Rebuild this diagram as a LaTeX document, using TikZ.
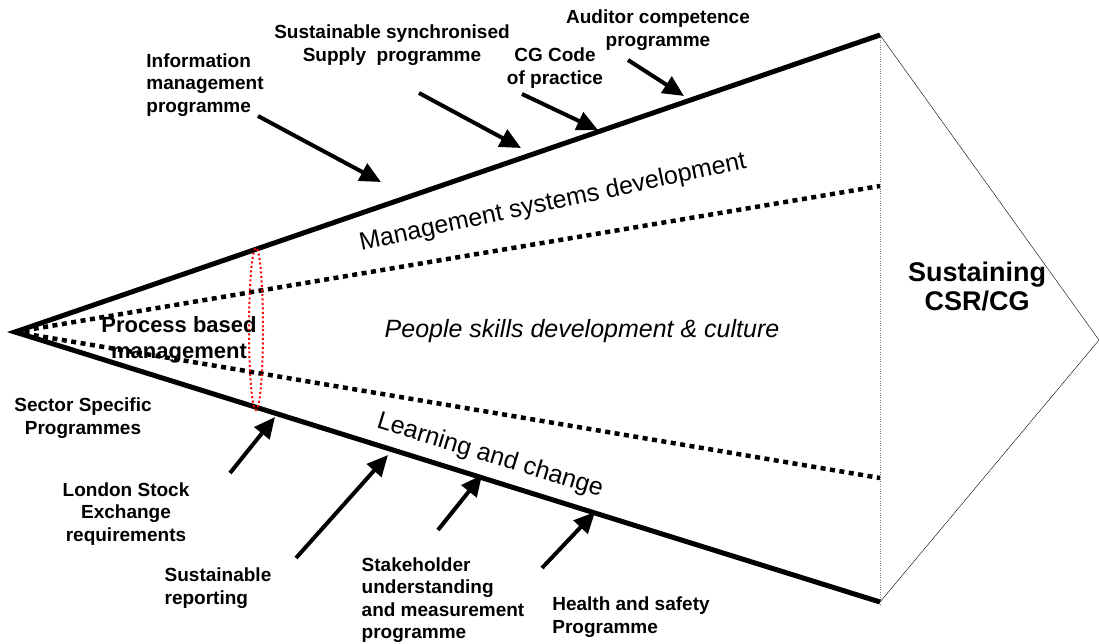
\documentclass[tikz,border=0pt]{standalone}
\usepackage{fontspec}
\setmainfont{Liberation Sans}
\usetikzlibrary{arrows.meta, positioning, shapes}

\begin{document}
\begin{tikzpicture}[x=1pt, y=-1pt,
    edge/.style={line width=5pt},
    layer/.style={line width=4.5pt, dash pattern=on 5pt off 4.5pt},
    feed/.style={line width=4pt, -{Triangle[length=21pt,width=19pt]}},
    lbl/.style={font=\bfseries\fontsize{19}{22.5}\selectfont, inner sep=0pt},
    band/.style={font=\fontsize{25}{30}\selectfont, inner sep=0pt}]
  \useasboundingbox (0,0) rectangle (1099,644);
  % cone and head
  \coordinate (apex) at (15,332);
  \coordinate (top) at (880,35);
  \coordinate (bot) at (880,602);
  \coordinate (tip) at (1099,340);
  \coordinate (msd-end) at (880,186);
  \coordinate (lc-end) at (880,478);
  \coordinate (base) at (880,606);
  \draw[gray, dotted, thin] (top) -- (base);
  \draw[thin] (top) -- (tip) -- (bot);
  \draw[layer] (apex) -- (msd-end);
  \draw[layer] (apex) -- (lc-end);
  \draw[edge] (top) -- (apex) -- (bot);
  \draw[red, line width=2pt, dash pattern=on 2pt off 2.5pt] (256,329) ellipse [x radius=7, y radius=81];

  % bands
  \node[band, rotate=12] (msd) at (553,203) {Management systems development};
  \node[band, font=\itshape\fontsize{25}{30}\selectfont] (people) at (582,331) {People skills development \& culture};
  \node[band, rotate=-17] (learn) at (490,456) {Learning and change};
  \node[font=\bfseries\fontsize{22}{26.5}\selectfont, align=center, inner sep=0pt] (pbm) at (179,340) {Process based\\management};
  \node[font=\bfseries\fontsize{27}{29}\selectfont, align=center, inner sep=0pt] (csr) at (977,286) {Sustaining\\CSR/CG};

  % programmes above
  \node[lbl, align=left] (info) at (205,85) {Information\\management\\programme};
  \node[lbl, align=center] (supply) at (392,45) {Sustainable synchronised\\Supply~~programme};
  \node[lbl, align=center] (cg) at (555,68) {CG Code\\of practice};
  \node[lbl, align=center] (audit) at (658,30) {Auditor competence\\programme};
  \coordinate (info-s) at (258,116);   \coordinate (info-e) at (381,182);
  \coordinate (supply-s) at (419,93);  \coordinate (supply-e) at (521,148);
  \coordinate (cg-s) at (522,94);      \coordinate (cg-e) at (598,130);
  \coordinate (audit-s) at (628,60);   \coordinate (audit-e) at (684,96);
  \foreach \p in {info, supply, cg, audit}
    \draw[feed] (\p-s) -- (\p-e);

  % programmes below
  \node[lbl, align=center] (sector) at (83,418) {Sector Specific\\Programmes};
  \node[lbl, align=center] (lse) at (126,514) {London Stock\\Exchange\\requirements};
  \node[lbl, align=left] (report) at (218,588) {Sustainable\\reporting};
  \node[lbl, align=left] (stake) at (443,600) {Stakeholder\\understanding\\and measurement\\programme};
  \node[lbl, align=left] (health) at (631,617) {Health and safety\\Programme};
  \coordinate (lse-s) at (230,473);    \coordinate (lse-e) at (275,417);
  \coordinate (report-s) at (296,558); \coordinate (report-e) at (388,455);
  \coordinate (stake-s) at (438,530);  \coordinate (stake-e) at (482,475);
  \coordinate (health-s) at (542,568); \coordinate (health-e) at (595,512);
  \foreach \p in {lse, report, stake, health}
    \draw[feed] (\p-s) -- (\p-e);
\end{tikzpicture}
\end{document}
